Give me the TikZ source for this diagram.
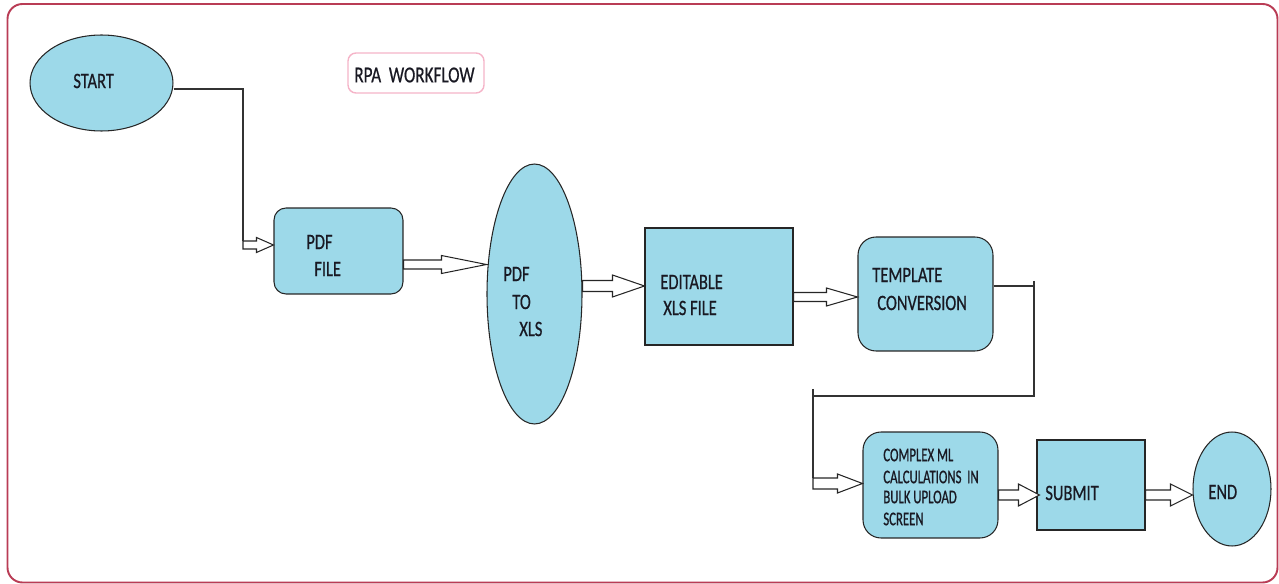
\documentclass[tikz,border=0pt]{standalone}
\usepackage{fontspec}
\setmainfont{Carlito}[FakeStretch=0.75, FakeBold=0.6]
\newfontfamily\condfont{Carlito}[FakeStretch=0.66, FakeBold=0.8]
\usetikzlibrary{shapes.geometric,calc}
\definecolor{boxblue}{RGB}{157,217,233}
\definecolor{framered}{RGB}{185,60,85}
\definecolor{rpapink}{RGB}{245,180,200}
\definecolor{txt}{RGB}{25,25,35}
\def\px{0.569055pt}
\tikzset{
  shapebox/.style={draw=black!85, fill=boxblue, line width=0.6pt, inner sep=0pt},
  ellbox/.style={shapebox, ellipse},
  roundbox/.style={shapebox, rectangle, rounded corners=#1},
  sqbox/.style={shapebox, rectangle},
  lbl/.style={anchor=west, inner sep=0pt, text=txt, font=\fontsize{12.5}{15}\selectfont},
  smalllbl/.style={lbl, font=\condfont\fontsize{11}{13}\selectfont},
  conn/.style={draw=black!80, line width=0.6pt},
  barr/.style={draw=black!85, fill=white, line width=0.6pt, line join=miter},
}
\newcommand{\barrow}[5]{%
  \draw[barr] let \p1=#1, \p2=#2 in
    ({\x1},{\y2+#4*\px}) -- ({\x2-#3*\px},{\y2+#4*\px}) -- ({\x2-#3*\px},{\y2+#5*\px})
    -- (\x2,\y2) -- ({\x2-#3*\px},{\y2-#5*\px}) -- ({\x2-#3*\px},{\y2-#4*\px})
    -- ({\x1},{\y2-#4*\px}) -- cycle;}
\begin{document}
\begin{tikzpicture}[x=0.02cm, y=-0.02cm]
\useasboundingbox (0,0) rectangle (1279,584);
% frame
\draw[framered, line width=1.1pt, rounded corners=0.3cm] (7.5,4) rectangle (1277.5,582.5);
% title
\node[draw=rpapink, line width=0.8pt, rounded corners=0.16cm, minimum width=2.72cm, minimum height=0.8cm, inner sep=0pt] (rpa) at (416,73) {};
\node[lbl, font=\fontsize{13}{15}\selectfont] (rpaT) at (354,75) {RPA~~WORKFLOW};
% shapes
\node[ellbox, minimum width=2.86cm, minimum height=1.92cm] (start) at (101.5,83) {};
\node[roundbox=0.24cm, minimum width=2.58cm, minimum height=1.72cm] (pdf) at (338.5,251) {};
\node[ellbox, minimum width=1.9cm, minimum height=5.2cm] (pdfxls) at (534.5,294) {};
\node[sqbox, minimum width=2.96cm, minimum height=2.34cm] (edit) at (719,286.5) {};
\node[roundbox=0.36cm, minimum width=2.7cm, minimum height=2.28cm] (tmpl) at (925.5,294) {};
\node[roundbox=0.36cm, minimum width=2.7cm, minimum height=2.12cm] (cml) at (930.5,485) {};
\node[sqbox, minimum width=2.16cm, minimum height=1.8cm] (submit) at (1091,485) {};
\node[ellbox, minimum width=1.56cm, minimum height=2.28cm] (end) at (1232,489) {};
% labels
\node[lbl] (startT) at (73,81) {START};
\node[lbl] (pdfT1) at (306,242) {PDF};
\node[lbl] (pdfT2) at (314,269) {FILE};
\node[lbl] (pxT1) at (503,274) {PDF};
\node[lbl] (pxT2) at (512,302) {TO};
\node[lbl] (pxT3) at (519,329) {XLS};
\node[lbl] (editT1) at (660,282) {EDITABLE};
\node[lbl] (editT2) at (663,308) {XLS FILE};
\node[lbl] (tmplT1) at (872,275) {TEMPLATE};
\node[lbl] (tmplT2) at (877,303) {CONVERSION};
\node[smalllbl] (cmlT1) at (883,455) {COMPLEX ML};
\node[smalllbl] (cmlT2) at (883,477) {CALCULATIONS~~IN};
\node[smalllbl] (cmlT3) at (883,497) {BULK UPLOAD};
\node[smalllbl] (cmlT4) at (883,519) {SCREEN};
\node[lbl] (submitT) at (1045,493) {SUBMIT};
\node[lbl] (endT) at (1208,492) {END};
% connector junctions
\coordinate (j0) at (243,241);
\coordinate (j1) at (1034,286);
\coordinate (j2) at (1034,396);
\coordinate (j3) at (813,396);
\coordinate (j4) at (813,478);
% connectors
\draw[conn] ($(start.east)+(0,6)$) -| (j0);
\barrow{(j0)}{($(pdf.west)+(0,-6)$)}{17}{4}{7.5}
\barrow{(pdf.east)}{($(pdfxls.west)+(0,-29.5)$)}{45}{4.5}{9}
\barrow{(pdfxls.east)}{($(edit.west)+(0,-0.5)$)}{32}{5.5}{11}
\barrow{(edit.east)}{($(tmpl.west)+(0,3)$)}{31}{4.5}{9}
\draw[conn] ($(tmpl.east)+(0,-8)$) -- (j1);
\draw[conn] ($(j1)+(0,-5)$) -- (j2) -- (j3);
\draw[conn] ($(j3)+(0,-7)$) -- (j4);
\barrow{(j4)}{($(cml.west)+(0,-1.5)$)}{25}{5.5}{9.5}
\barrow{(cml.east)}{($(submit.west)+(3,10)$)}{21}{5}{11}
\barrow{(submit.east)}{($(end.west)+(0,6)$)}{22}{5}{11}
\end{tikzpicture}
\end{document}
